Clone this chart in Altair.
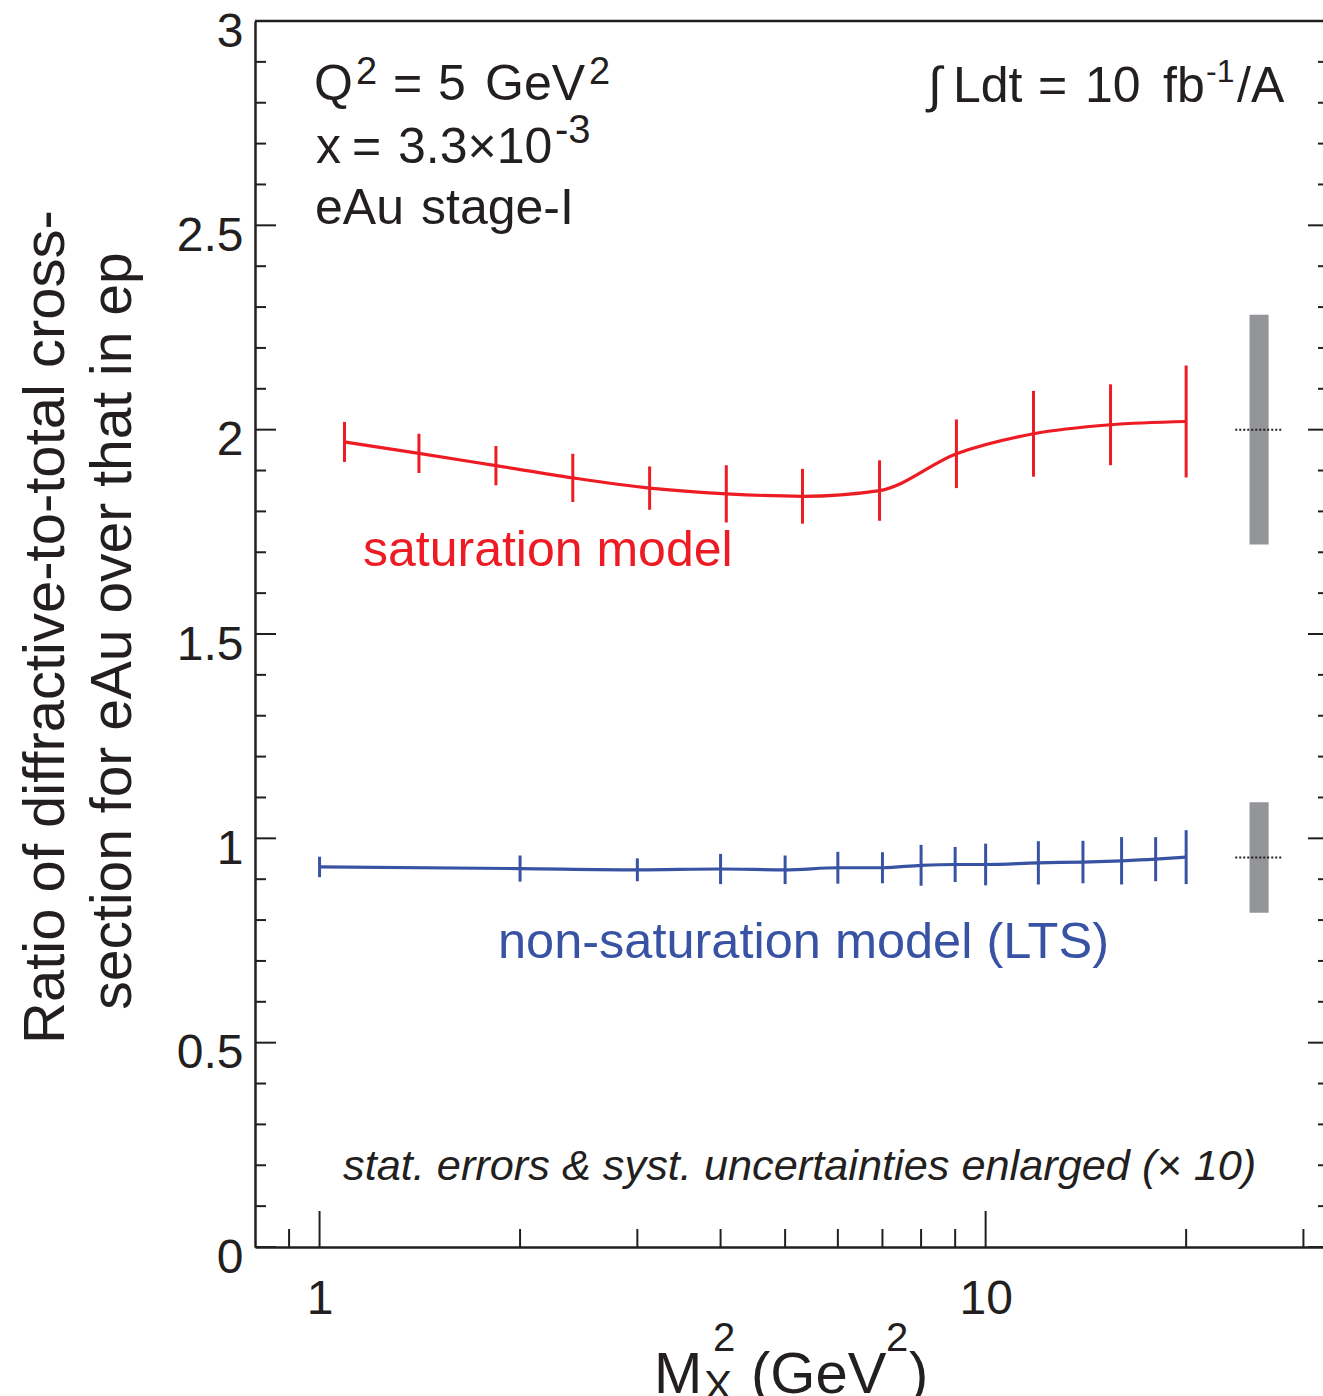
import altair as alt
import pandas as pd

# Saturation model: ratio of diffractive-to-total cross-section, eAu over ep
sat_m2 = [1.09, 1.41, 1.84, 2.40, 3.13, 4.08, 5.31, 6.93, 9.04, 11.8, 15.4, 20.0]
sat_ratio = [1.970, 1.942, 1.912, 1.882, 1.857, 1.843, 1.837, 1.851, 1.941, 1.990, 2.012, 2.020]
sat_err = [0.049, 0.048, 0.048, 0.059, 0.053, 0.070, 0.067, 0.074, 0.084, 0.105, 0.099, 0.137]

# Non-saturation model (leading-twist shadowing)
lts_m2 = [1, 2, 3, 4, 5, 6, 7, 8, 9, 10, 12, 14, 16, 18, 20]
lts_ratio = [0.930, 0.926, 0.923, 0.925, 0.923, 0.928, 0.928, 0.934, 0.936, 0.936,
             0.940, 0.942, 0.945, 0.949, 0.954]
lts_err = [0.025, 0.032, 0.028, 0.037, 0.035, 0.039, 0.038, 0.050, 0.043, 0.051,
           0.053, 0.052, 0.058, 0.054, 0.066]

# Systematic uncertainty boxes (centre, half-height) drawn to the right of the curves
syst_center = [2.000, 0.953]
syst_half = [0.281, 0.135]
syst_x = [24.9, 26.6]
syst_ref_x = [23.7, 27.9]

# Axis ticks
x_major = [1, 10]
x_minor = [0.9, 2, 3, 4, 5, 6, 7, 8, 9, 20, 30]
y_major = [0, 0.5, 1, 1.5, 2, 2.5, 3]
y_minor = [round(0.1 * i, 1) for i in range(1, 30) if i % 5 != 0]

RED = "#ED1C24"
BLUE = "#3953A4"
GREY = "#939598"
INK = "#231F20"
FONT = "Liberation Sans"

W, H = 1068, 1226
LEFT, TOP = 255, 21

xs = alt.Scale(type="log", domain=[0.8, 32.1])
ys = alt.Scale(domain=[0, 3])

AX = alt.Axis(values=x_major, format="~g", title=None, ticks=False, tickSize=0,
              labelPadding=28, domainWidth=2.5, domainColor=INK,
              labelFontSize=48, labelFont=FONT, labelColor=INK, grid=False,
              labelFlush=False)
AY = alt.Axis(values=y_major, format="~g", title=None, ticks=False, tickSize=0,
              labelPadding=12, labelOffset=11, labelBaseline="middle",
              domainWidth=2.5, domainColor=INK, labelFontSize=48,
              labelFont=FONT, labelColor=INK, grid=False, labelFlush=False)

sat = pd.DataFrame({"m2": sat_m2, "r": sat_ratio, "e": sat_err})
sat["lo"] = sat["r"] - sat["e"]
sat["hi"] = sat["r"] + sat["e"]
lts = pd.DataFrame({"m2": lts_m2, "r": lts_ratio, "e": lts_err})
lts["lo"] = lts["r"] - lts["e"]
lts["hi"] = lts["r"] + lts["e"]
syst = pd.DataFrame({
    "c": syst_center,
    "lo": [c - h for c, h in zip(syst_center, syst_half)],
    "hi": [c + h for c, h in zip(syst_center, syst_half)],
    "x0": [syst_x[0]] * 2, "x1": [syst_x[1]] * 2,
    "r0": [syst_ref_x[0]] * 2, "r1": [syst_ref_x[1]] * 2,
})


def X(f):
    return alt.X(f, type="quantitative", scale=xs, axis=AX)


def Y(f):
    return alt.Y(f, type="quantitative", scale=ys, axis=AY)


sat_line = alt.Chart(sat).mark_line(color=RED, strokeWidth=3.2, interpolate="monotone").encode(
    x=X("m2"), y=Y("r"))
sat_err_bars = alt.Chart(sat).mark_rule(color=RED, strokeWidth=3).encode(
    x=X("m2"), y=Y("lo"), y2="hi")

lts_line = alt.Chart(lts).mark_line(color=BLUE, strokeWidth=3.2, interpolate="monotone").encode(
    x=X("m2"), y=Y("r"))
lts_err_bars = alt.Chart(lts).mark_rule(color=BLUE, strokeWidth=3).encode(
    x=X("m2"), y=Y("lo"), y2="hi")

syst_box = alt.Chart(syst).mark_rect(color=GREY).encode(
    x=X("x0"), x2="x1", y=Y("lo"), y2="hi")
syst_ref = alt.Chart(syst).mark_rule(color=INK, strokeWidth=2, strokeDash=[2, 2]).encode(
    x=X("r0"), x2="r1", y=Y("c"))


# Frame: ticks pointing inwards on left, right and bottom, plus the top edge
def yticks(vals, length, right=False):
    d = pd.DataFrame({"v": vals})
    if right:
        return alt.Chart(d).mark_rule(color=INK, strokeWidth=2).encode(
            y=Y("v"), x=alt.value(W - length + 6), x2=alt.value(W))
    return alt.Chart(d).mark_rule(color=INK, strokeWidth=2).encode(
        y=Y("v"), x=alt.value(0), x2=alt.value(length))


def xticks(vals, length):
    d = pd.DataFrame({"v": vals})
    return alt.Chart(d).mark_rule(color=INK, strokeWidth=2).encode(
        x=X("v"), y=alt.value(H), y2=alt.value(H - length))


top_edge = alt.Chart(alt.Data(values=[{}])).mark_rule(color=INK, strokeWidth=2.5).encode(
    x=alt.value(0), x2=alt.value(W), y=alt.value(0))


def txt(s, px, py, size=50, color=INK, style="normal", angle=0, align="left"):
    return alt.Chart(alt.Data(values=[{}])).mark_text(
        text=s, fontSize=size, font=FONT, color=color, fontStyle=style,
        angle=angle, align=align, baseline="alphabetic",
    ).encode(x=alt.value(px - LEFT), y=alt.value(py - TOP))


SUP = 38
labels = [
    # Q^2 = 5 GeV^2
    txt("Q", 314, 100), txt("2", 356, 84, SUP), txt("=", 393, 100), txt("5", 438, 100),
    txt("GeV", 485, 100), txt("2", 589, 84, SUP),
    # x = 3.3x10^-3
    txt("x", 316, 163), txt("=", 352, 163), txt("3.3\u00d710", 398, 163), txt("-3", 555, 143, 40),
    # eAu stage-I
    txt("eAu", 315, 224), txt("stage-I", 421, 224),
    # integrated luminosity
    txt("\u222b", 928, 102), txt("Ldt", 953, 102), txt("=", 1038, 102), txt("10", 1085, 102),
    txt("fb", 1163, 102), txt("-1", 1206, 82, 32), txt("/A", 1237, 102),
    # curve labels
    txt("saturation model", 363, 566, 50, RED),
    txt("non-saturation model (LTS)", 498, 958, 50.5, BLUE),
    txt("stat. errors & syst. uncertainties enlarged (\u00d7 10)", 343, 1180, 43.3, style="italic"),
    # y title
    txt("Ratio of diffractive-to-total cross-", 64, 627, 58, angle=270, align="center"),
    txt("section for eAu over that in ep", 131, 631, 57, angle=270, align="center"),
    # x title
    txt("M", 654, 1393, 58), txt("X", 704, 1400, 42), txt("2", 713, 1351, 40),
    txt("(GeV", 751, 1393, 58), txt("2", 886, 1351, 40),
    txt(")", 909, 1393, 58),
]

chart = alt.layer(
    syst_box, syst_ref,
    sat_line, sat_err_bars, lts_line, lts_err_bars,
    yticks(y_major, 21), yticks(y_minor, 11),
    yticks(y_major, 21, right=True), yticks(y_minor, 11, right=True),
    xticks(x_major, 36), xticks(x_minor, 18),
    top_edge,
    *labels,
).properties(
    width=W, height=H,
    padding={"left": LEFT, "top": TOP, "right": 0, "bottom": 1396 - TOP - H},
    autosize=alt.AutoSizeParams(type="none"),
    background="white",
).configure_view(stroke=None)

chart.save("out.html", embed_options={"renderer": "svg", "actions": False})
